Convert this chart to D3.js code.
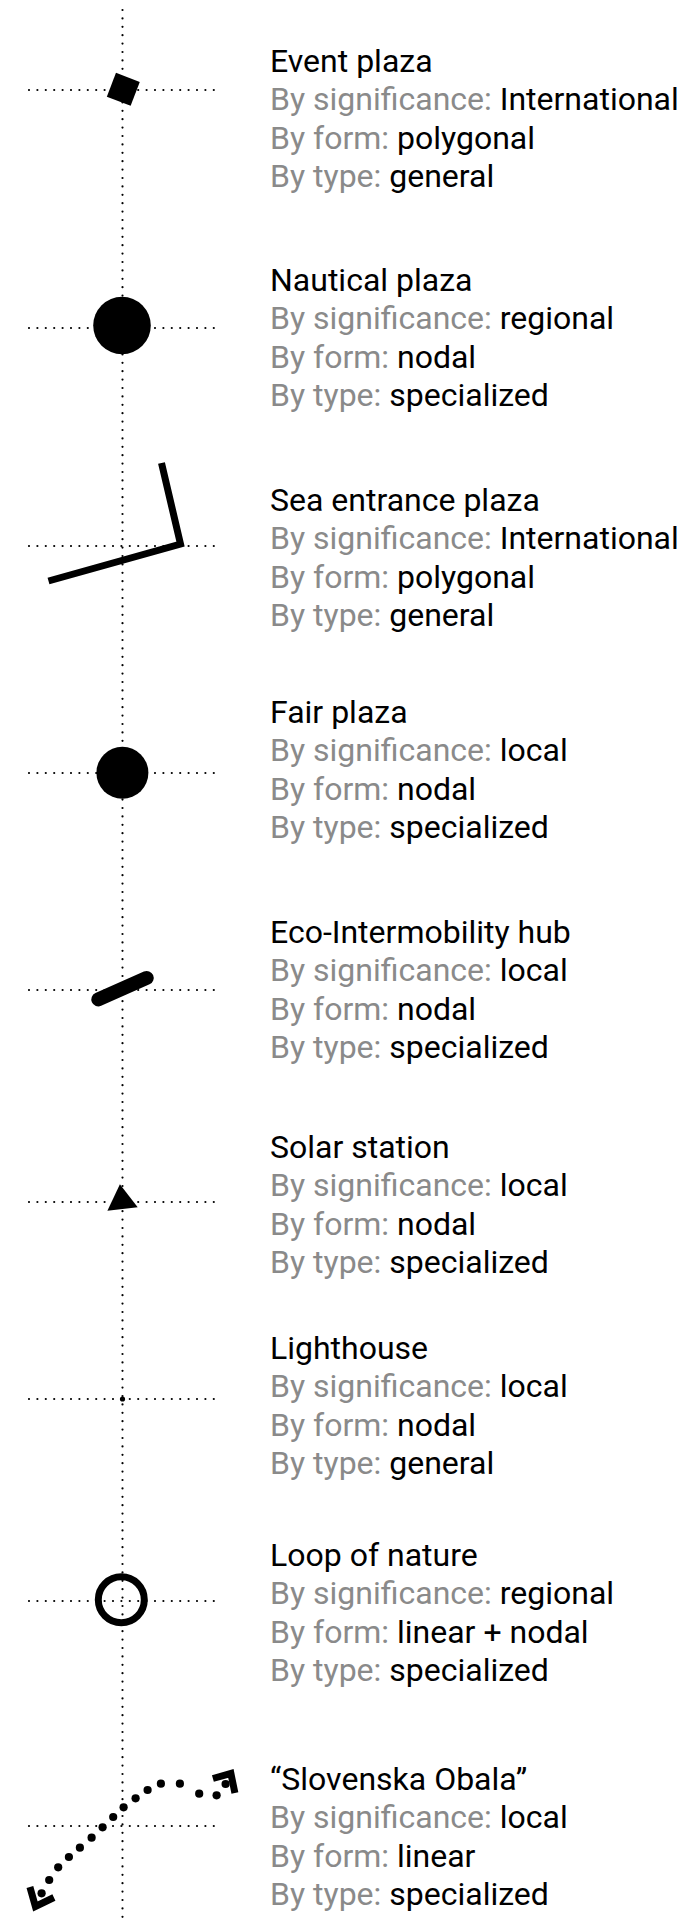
<!DOCTYPE html>
<html>
<head>
<meta charset="utf-8">
<script src="https://cdn.jsdelivr.net/npm/d3@7"></script>
<style>
  html, body { margin: 0; padding: 0; background: #fff; }
  svg { display: block; }
  text { font-family: Roboto, "Noto Sans", sans-serif; font-size: 32px; white-space: pre; }
</style>
</head>
<body>
<div id="chart"></div>
<script>
// legend entries
const names = ["Event plaza", "Nautical plaza", "Sea entrance plaza", "Fair plaza",
  "Eco-Intermobility hub", "Solar station", "Lighthouse", "Loop of nature", "\u201cSlovenska Obala\u201d"]
const significance = ["International", "regional", "International", "local",
  "local", "local", "local", "regional", "local"]
const form = ["polygonal", "nodal", "polygonal", "nodal",
  "nodal", "nodal", "nodal", "linear + nodal", "linear"]
const kind = ["general", "specialized", "general", "specialized",
  "specialized", "specialized", "general", "specialized", "specialized"]
const glyph = ["square", "bigDisc", "corner", "disc", "pill", "triangle", "point", "ring", "trail"]
const labels = ["By significance: ", "By form: ", "By type: "]

// layout
let W = 683, H = 1922,
    axisX = 122.5, guideX0 = 29, guideX1 = 218,
    textX = 270, lineH = 38.3,
    crossY = [90, 328, 546, 773, 990, 1202, 1399, 1601, 1826],
    titleY = [72, 291, 511, 723, 943, 1158, 1359, 1566, 1790]

let svg = d3.select("#chart").append("svg")
    .attr("width", W)
    .attr("height", H)

let y = d3.scaleOrdinal().domain(names).range(crossY),
    ty = d3.scaleOrdinal().domain(names).range(titleY)

let dotted = sel => sel
    .attr("fill", "none")
    .attr("stroke", "#000")
    .attr("stroke-width", 2.2)
    .attr("stroke-linecap", "round")
    .attr("stroke-dasharray", "0 8.4")

// guides
svg.append("line")
    .attr("x1", axisX).attr("x2", axisX)
    .attr("y1", 10).attr("y2", H)
    .call(dotted)

svg.selectAll("line.guide").data(names).join("line")
    .attr("class", "guide")
    .attr("x1", guideX0).attr("x2", guideX1)
    .attr("y1", d => y(d)).attr("y2", d => y(d))
    .call(dotted)

// glyph shapes, in px around the crossing point
let cornerPts = [[39, -83], [58, -2], [-74, 35]],
    trianglePts = [[-2.6, -17.7], [-15.1, 8.7], [15.2, 5.3]],
    trailDots = [[-80.9, 67.3], [-73.3, 54], [-64.3, 41.3], [-53.6, 31], [-42.6, 21.7],
      [-30.9, 11.7], [-19.9, 1.3], [-9.3, -9], [1.1, -18.7], [13.1, -27.7], [25.1, -36],
      [38.4, -42.3], [57.4, -42.3], [76.7, -32.3], [94.1, -30.7], [103.1, -42]],
    bracketA = [[-92.6, 61], [-87.1, 80.5], [-68.6, 71.5]],
    bracketB = [[90.4, -47.5], [108.4, -52.5], [112.4, -33]]

let line = d3.line()

let drawGlyph = (g, type) => {
    if (type === "square") {
        g.append("rect")
            .attr("x", -12.75).attr("y", -12.75)
            .attr("width", 25.5).attr("height", 25.5)
            .attr("transform", "translate(0.8,-0.7) rotate(21)")
    } else if (type === "bigDisc") {
        g.append("circle").attr("cx", -0.5).attr("cy", -2.5).attr("r", 28.8)
    } else if (type === "disc") {
        g.append("circle").attr("cx", -0.1).attr("cy", -0.2).attr("r", 26)
    } else if (type === "corner") {
        g.append("path")
            .attr("d", line(cornerPts))
            .attr("fill", "none").attr("stroke", "#000")
            .attr("stroke-width", 7).attr("stroke-linejoin", "miter")
    } else if (type === "pill") {
        let a = 24 * Math.PI / 180, half = 26.5
        g.append("line")
            .attr("x1", -half * Math.cos(a)).attr("y1", half * Math.sin(a) - 1.3)
            .attr("x2", half * Math.cos(a)).attr("y2", -half * Math.sin(a) - 1.3)
            .attr("stroke", "#000").attr("stroke-width", 14)
            .attr("stroke-linecap", "round")
    } else if (type === "triangle") {
        g.append("path").attr("d", line(trianglePts) + "Z")
    } else if (type === "point") {
        g.append("circle").attr("r", 2.6)
    } else if (type === "ring") {
        g.append("circle")
            .attr("cx", -1.2).attr("cy", -1.3).attr("r", 23)
            .attr("fill", "none").attr("stroke", "#000").attr("stroke-width", 7)
    } else if (type === "trail") {
        g.selectAll("circle").data(trailDots).join("circle")
            .attr("cx", d => d[0]).attr("cy", d => d[1]).attr("r", 4.1)
        g.selectAll("path.bracket").data([bracketA, bracketB]).join("path")
            .attr("class", "bracket")
            .attr("d", d => line(d))
            .attr("fill", "none").attr("stroke", "#000")
            .attr("stroke-width", 7).attr("stroke-linejoin", "miter")
    }
}

let rows = svg.selectAll("g.glyph").data(names).join("g")
    .attr("class", "glyph")
    .attr("transform", d => `translate(${axisX},${y(d)})`)
    .attr("fill", "#000")

rows.each(function (d, i) { drawGlyph(d3.select(this), glyph[i]) })

// text blocks
svg.selectAll("text.title").data(names).join("text")
    .attr("class", "title")
    .attr("x", textX)
    .attr("y", d => ty(d))
    .attr("fill", "#000")
    .text(d => d)

names.forEach((n, i) => {
    let values = [significance[i], form[i], kind[i]]
    values.forEach((v, j) => {
        let t = svg.append("text")
            .attr("x", textX)
            .attr("y", ty(n) + lineH * (j + 1))
        t.append("tspan").attr("fill", "#8a8a8a").text(labels[j])
        t.append("tspan").attr("fill", "#000").text(v)
    })
})
</script>
</body>
</html>
